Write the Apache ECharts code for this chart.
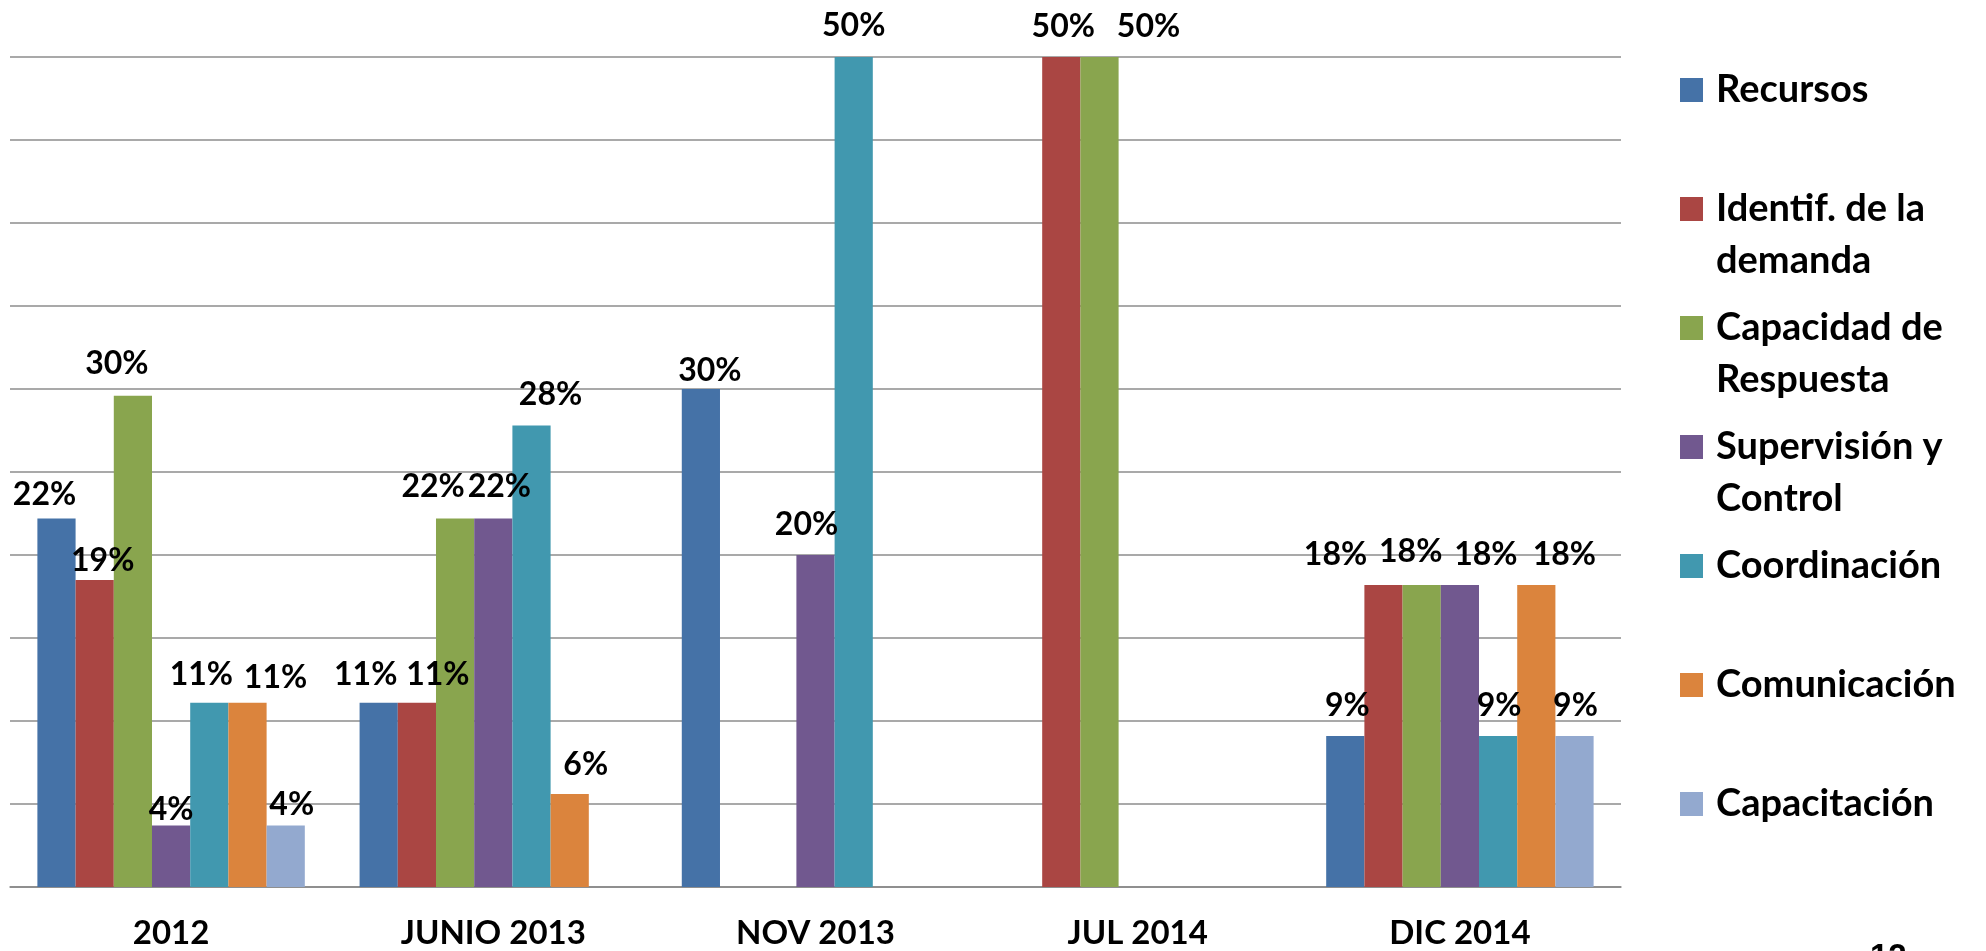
<!DOCTYPE html>
<html><head><meta charset="utf-8">
<script src="https://cdn.jsdelivr.net/npm/echarts@6/dist/echarts.min.js"></script>
<style>html,body{margin:0;padding:0;background:#fff}#c{width:1986px;height:951px}</style>
</head><body><div id="c"></div>
<script>
// ---- data ----
const categories = ['2012', 'JUNIO 2013', 'NOV 2013', 'JUL 2014', 'DIC 2014'];
const seriesNames = ['Recursos', 'Identif. de la demanda', 'Capacidad de Respuesta', 'Supervisión y Control', 'Coordinación', 'Comunicación', 'Capacitación'];
const legendLabels = ['Recursos', 'Identif. de la\ndemanda', 'Capacidad de\nRespuesta', 'Supervisión y\nControl', 'Coordinación', 'Comunicación', 'Capacitación'];
const recursos     = [22.2, 11.1, 30,   null, 9.1];
const identif      = [18.5, 11.1, null, 50,   18.2];
const capacidad    = [29.6, 22.2, null, 50,   18.2];
const supervision  = [3.7,  22.2, 20,   null, 18.2];
const coordinacion = [11.1, 27.8, 50,   null, 9.1];
const comunicacion = [11.1, 5.6,  null, null, 18.2];
const capacitacion = [3.7,  null, null, null, 9.1];
const values = [recursos, identif, capacidad, supervision, coordinacion, comunicacion, capacitacion];

// ---- style / layout ----
const colors = ['#4572A7', '#AA4643', '#89A54E', '#71588F', '#4198AF', '#DB843D', '#93A9CF'];
// small label nudges [dx, dy] (px) that reproduce the spread-out label placement of the original
const labelNudges = [
  [[-12, 6], [-13, 2], [9, 12], null, [2, 0]],
  [[8, 11], [21, 2], null, [2, 0], [-48, 0]],
  [[-16, -2], [-22, -2], null, [49, 0], [-11, -3]],
  [[0, 14], [6, -2], [-9, 0], null, [26, 0]],
  [[-8, 2], [19, -1], [0, -1], null, [1, 0]],
  [[28, 5], [16, 1], null, null, [28, 0]],
  [[6, 9], null, null, null, [1, 0]]
];
const FONT = 'Lato';
const TWO_LINE_ICON = 'path://M0,0L23,0L23,24L0,24ZM0,76L0.01,76';

const chart = echarts.init(document.getElementById('c'), null, {renderer: 'canvas'});
chart.setOption({
  animation: false,
  backgroundColor: '#fff',
  grid: {left: 10, right: 365, top: 57, bottom: 64, containLabel: false},
  xAxis: {
    type: 'category',
    data: categories,
    axisLine: {lineStyle: {color: '#878787', width: 1.5}},
    axisTick: {length: 12, lineStyle: {color: '#878787', width: 1.5}},
    axisLabel: {margin: 30, fontFamily: FONT, fontWeight: 'bold', fontSize: 33, color: '#000'}
  },
  yAxis: {
    type: 'value', min: 0, max: 50, interval: 5,
    axisLabel: {show: false}, axisLine: {show: false}, axisTick: {show: false},
    splitLine: {lineStyle: {color: '#8c8c8c', width: 1.5}}
  },
  legend: seriesNames.map((n, i) => {
    const two = legendLabels[i].indexOf('\n') >= 0;
    return {
      data: [{name: n, icon: two ? TWO_LINE_ICON : 'rect'}],
      left: 1680, top: 90 + i * 119 - 26,
      orient: 'vertical', padding: 0, selectedMode: false,
      itemWidth: 23, itemHeight: two ? 76 : 24,
      formatter: () => legendLabels[i],
      textStyle: {fontFamily: FONT, fontWeight: 'bold', fontSize: 38, color: '#000', lineHeight: 52, padding: [0, 0, 0, 8]}
    };
  }),
  graphic: [{
    type: 'text', left: 1870, top: 941,
    style: {text: '12', font: 'bold 33px "Liberation Sans"', fill: '#000'}
  }],
  series: seriesNames.map((n, i) => ({
    type: 'bar', name: n,
    data: values[i].map((v, k) => {
      const nd = labelNudges[i][k];
      return nd ? {value: v, label: {offset: nd}} : v;
    }),
    barGap: '0%', barCategoryGap: '17%',
    itemStyle: {color: colors[i]},
    label: {
      show: true, position: 'top', distance: 14,
      formatter: p => Math.round(p.value) + '%',
      fontFamily: FONT, fontWeight: 'bold', fontSize: 32, color: '#000'
    }
  }))
});
</script>
</body></html>
